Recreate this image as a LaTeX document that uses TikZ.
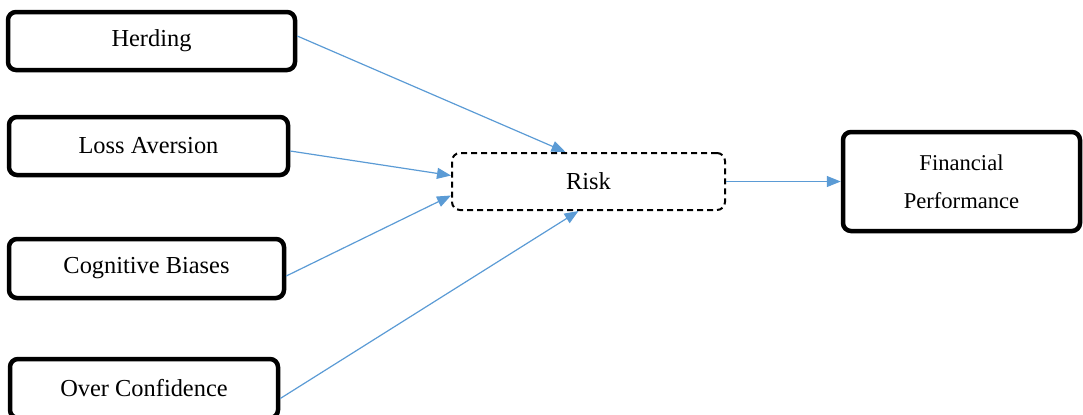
\documentclass[tikz,border=0pt]{standalone}
\usepackage{fontspec}
\setmainfont{Liberation Serif}
\usetikzlibrary{arrows.meta,calc}
\definecolor{linkblue}{RGB}{91,155,213}

\begin{document}
\begin{tikzpicture}[x=0.5pt,y=-0.5pt,
    factor/.style={draw, line width=2.25pt, rounded corners=4pt, inner sep=0pt,
      minimum height=29pt, font=\fontsize{12.2}{14}\selectfont},
    mediator/.style={draw, line width=1pt, dash pattern=on 3pt off 2pt,
      rounded corners=4pt, inner sep=0pt, minimum width=136.5pt,
      minimum height=28.5pt, font=\fontsize{12.2}{14}\selectfont},
    outcome/.style={draw, line width=2.25pt, rounded corners=4pt, inner sep=0pt,
      minimum width=118.5pt, minimum height=49.5pt, align=center,
      font=\fontsize{11.3}{19}\selectfont},
    link/.style={draw=linkblue, line width=0.6pt, -{Triangle[length=7pt,width=5.5pt]}}]
  \useasboundingbox (0,0) rectangle (1083,414);
  \node [factor, minimum width=143.5pt] (herd) at (151.5,41) {Herding};
  \node [factor, minimum width=139.5pt] (loss) at (148.5,146) {Loss Aversion};
  \node [factor, minimum width=137.5pt, minimum height=29.5pt] (cog) at (146.5,268.5) {Cognitive Biases};
  \node [factor, minimum width=134pt, minimum height=29.5pt] (over) at (144,388.5) {Over Confidence};
  \node [mediator] (risk) at (588.5,181.5) {Risk};
  \node [outcome] (perf) at (961.5,181.5) {Financial\\Performance};
  \draw [link] ($(herd.east)+(0,-5)$) -- ($(risk.north)+(-23,0)$);
  \draw [link] ($(loss.east)+(0,5)$) -- ($(risk.west)+(0,-6)$);
  \draw [link] ($(cog.east)+(0,7.5)$) -- ($(risk.west)+(0,14)$);
  \draw [link] ($(over.east)+(0,10)$) -- ($(risk.south)+(-10,0)$);
  \draw [link] (risk) -- (perf);
\end{tikzpicture}
\end{document}
